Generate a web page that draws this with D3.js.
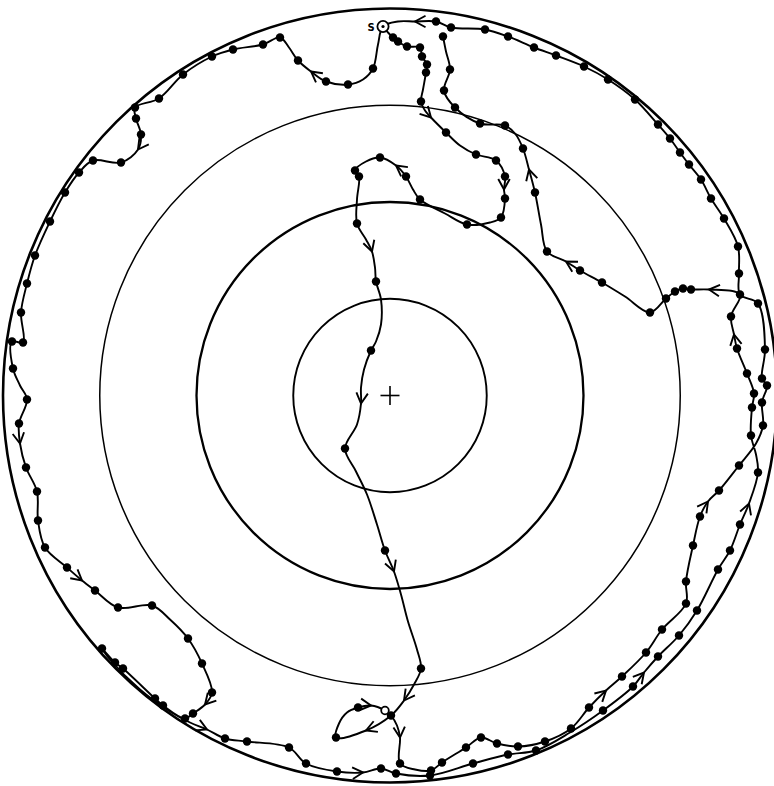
<!DOCTYPE html>
<html>
<head>
<meta charset="utf-8">
<script src="https://cdn.jsdelivr.net/npm/d3@7"></script>
<style>
  html, body { margin: 0; padding: 0; background: #fff; }
  svg { display: block; }
</style>
</head>
<body>
<svg id="chart" width="774" height="786"></svg>
<script>
// Pool geometry (tracker units, origin at pool centre, y up)
const POOL_R = 77.4;
const RING_FRACTIONS = [0.25, 0.5, 0.75, 1];
const START_LABEL = "S";

// Swim path, in order. Each entry: [x, y, kind]
// kind: 0 = path vertex, 1 = position fix (dot), 2 = heading arrow, 3 = hollow marker
const legStart = [
  [-1.4, 73.8, 3], [-0.4, 72.6, 0], [0.6, 71.6, 1], [1.6, 70.8, 1], [3.4, 69.8, 1],
  [6, 69.6, 1], [6.4, 67.8, 1], [7.4, 66.2, 1], [7.2, 64.6, 1], [6.6, 61.2, 0],
  [6.2, 58.8, 1], [7, 57, 0], [8.2, 55.6, 2], [11.2, 52.6, 1], [14, 50, 0],
  [17.2, 48.2, 1], [21.2, 47, 1], [23, 43.8, 1], [22.8, 41.2, 2], [23, 39.4, 1],
  [22.2, 35.6, 1], [20, 34.6, 0], [15.4, 34.2, 1], [11, 36.4, 0], [6, 39.2, 1],
  [4.6, 41.2, 0], [3.2, 43.8, 1], [1.2, 46, 2], [-2, 47.6, 1], [-4.8, 46.8, 0],
  [-7, 45, 1], [-6.2, 43.8, 1], [-6.6, 39.2, 0], [-6.6, 34.4, 1], [-4.8, 31.2, 0],
  [-3.6, 28.8, 2], [-3, 25.6, 0], [-2.8, 22.8, 1], [-1.8, 19.2, 0], [-1.8, 14.2, 0],
  [-2.8, 10.8, 0], [-3.8, 9, 1], [-5.2, 5.2, 0], [-5.8, 1.6, 0], [-5.8, -1.6, 2],
  [-6.6, -5.8, 0], [-9, -10.6, 1], [-6.8, -15.2, 0], [-4.6, -19.8, 0], [-2.6, -25.8, 0],
  [-1, -31, 1], [0.8, -35.2, 2], [2.2, -39.8, 0], [3.6, -45.2, 0], [5.4, -50.8, 0],
  [6.2, -54.6, 1], [4.8, -57.8, 0], [2.8, -61, 2], [0.2, -64, 1], [-4.8, -67, 2],
  [-10.8, -68.4, 1], [-10.2, -65.6, 0], [-8.6, -63.4, 0], [-6.4, -62.4, 1], [-3.8, -62, 2],
  [-1, -63, 3], [0.2, -64, 0], [1.4, -66, 0], [2, -68.4, 2], [2, -73.6, 1]
];

const legLap1 = [
  [5, -74.8, 0], [8.2, -75, 1], [10.4, -73.4, 1], [15.2, -70.4, 1], [18.2, -68.4, 1],
  [21.4, -69.6, 1], [25.6, -70.2, 1], [31, -69.2, 1], [36.2, -66.6, 1], [39.8, -62.4, 1],
  [43.2, -59, 2], [46.4, -56.2, 1], [51.2, -51.4, 1], [54.4, -46.8, 1], [59.2, -41.6, 1],
  [59.2, -37.2, 1], [60.6, -30, 1], [62, -24.2, 1], [63.6, -21.2, 2], [65.8, -19, 1],
  [69.8, -14, 1], [73.2, -9.6, 0], [74.6, -6, 1], [74.4, -1.4, 1], [75.4, 2, 1],
  [74.4, 3.4, 1], [75, 9.2, 1], [73.6, 18.4, 1], [70, 20.2, 1], [69.8, 24.4, 1],
  [69.6, 29.8, 1], [66.8, 35.4, 1], [64.2, 39.4, 1], [62.2, 43.2, 1], [59.8, 46.2, 1],
  [58, 48.6, 1], [56, 51.4, 1], [53.6, 54.2, 1], [49, 59.2, 1], [43.6, 63.2, 1],
  [38.8, 65.8, 1], [33.2, 68, 1], [28.8, 69.6, 1], [23.6, 71.8, 1], [19, 73.2, 1],
  [12.2, 73.6, 1], [9.2, 74.8, 1], [5, 74.8, 2], [1.6, 74.8, 0], [-1.4, 73.8, 0]
];

const legLap2 = [
  [-2.4, 70.2, 0], [-3.4, 65.4, 1], [-5.4, 63.2, 0], [-8.4, 62.2, 1], [-12.8, 62.8, 1],
  [-15.8, 64.8, 2], [-18.4, 67, 1], [-20.2, 69.6, 0], [-22, 71.6, 1], [-25.4, 70.2, 1],
  [-31.4, 69.2, 1], [-35.6, 67.8, 1], [-41.4, 64.2, 1], [-46.2, 59.4, 1], [-51, 57.6, 1],
  [-50.8, 55.4, 1], [-49.8, 52.2, 1], [-50.4, 49.2, 2], [-53.8, 46.6, 1], [-59.4, 47, 1],
  [-62.2, 44.6, 1], [-65, 40.6, 1], [-68, 34.8, 1], [-71, 28, 1], [-72.6, 22.4, 1],
  [-73.8, 16.6, 1], [-73.4, 10.6, 1], [-75.6, 10.8, 1], [-75.4, 5.4, 1], [-74, 2, 0],
  [-72.6, -0.8, 1], [-74.2, -5.6, 1], [-74, -9.6, 2], [-72.8, -14.4, 1], [-70.6, -19.2, 1],
  [-70.4, -25, 1], [-69, -30.4, 1], [-64.6, -34.4, 1], [-61.6, -37, 2], [-59, -39, 1],
  [-54.4, -42.4, 1], [-47.6, -42, 1], [-44, -44.8, 0], [-40.4, -48.6, 1], [-37.6, -53.6, 1],
  [-35.6, -59.4, 1], [-37, -61.8, 2], [-39.4, -63.6, 1], [-41, -64.6, 1], [-45.4, -62, 1],
  [-47, -60.6, 1], [-53.4, -54.6, 1], [-55, -53.4, 1], [-57.6, -50.6, 1], [-56, -52.8, 0],
  [-50, -58.8, 0], [-44, -63.2, 0], [-40, -65.4, 0], [-36.6, -66.8, 2], [-33, -68.6, 1],
  [-28.6, -69.2, 1], [-20.2, -70.4, 1], [-16.8, -73.6, 1], [-10.6, -75.2, 1], [-5.4, -75.4, 2],
  [-1.8, -74.6, 1], [1.2, -75.6, 1], [8, -76, 1], [16.6, -73.6, 1], [23.6, -71.8, 1],
  [29.2, -71, 1], [36, -67.4, 0], [42.6, -63, 1], [48.6, -58.2, 1], [50.8, -55.4, 2],
  [53.6, -52.2, 1], [57.8, -48, 1], [61.4, -43, 1], [65.6, -34.8, 1], [68, -31, 1],
  [70, -25.8, 1], [71.8, -21.6, 2], [73.6, -15.4, 1], [73.2, -11.8, 0], [72.2, -8, 1],
  [72.4, -2.4, 1], [72.8, 0.4, 1], [71.4, 4.4, 1], [69.4, 9.4, 1], [68.8, 12.2, 2],
  [68.2, 15.8, 1], [70, 20.2, 0], [63.8, 21.2, 2], [60.2, 21.2, 1], [58.6, 21.4, 1],
  [57, 20.8, 1], [55.2, 19.4, 1], [52, 16.6, 1], [47, 19.8, 0], [42.4, 22.6, 1],
  [38, 25, 1], [35.2, 26.8, 2], [31.4, 28.8, 1], [30.2, 34.2, 0], [29, 40.6, 1],
  [27.8, 45.2, 2], [26.6, 49.4, 1], [25, 52.4, 0], [23, 54, 1], [18, 54.4, 1],
  [13, 57.6, 1], [10.8, 61, 1], [12, 65.2, 1], [11.2, 68.8, 0], [10.6, 71.8, 1]
];

// ---------------------------------------------------------------
const svg = d3.select("#chart");
const cx = 390, cy = 395.5, pxPerUnit = 5;

const x = d3.scaleLinear()
  .domain([-POOL_R, POOL_R])
  .range([cx - POOL_R * pxPerUnit, cx + POOL_R * pxPerUnit]);
const y = d3.scaleLinear()
  .domain([-POOL_R, POOL_R])
  .range([cy + POOL_R * pxPerUnit, cy - POOL_R * pxPerUnit]);
const rPx = d => x(d) - x(0);

// Concentric annuli
const ringStroke = { 0.25: 1.9, 0.5: 2.3, 0.75: 1.5, 1: 2.6 };
svg.append("g").selectAll("circle")
  .data(RING_FRACTIONS)
  .join("circle")
  .attr("cx", x(0))
  .attr("cy", y(0))
  .attr("r", f => rPx(f * POOL_R))
  .attr("fill", "none")
  .attr("stroke", "#000")
  .attr("stroke-width", f => ringStroke[f]);

// Pool centre cross
const cross = svg.append("g").attr("stroke", "#000").attr("stroke-width", 1.6);
cross.append("line").attr("x1", x(-1.9)).attr("x2", x(1.9)).attr("y1", y(0)).attr("y2", y(0));
cross.append("line").attr("x1", x(0)).attr("x2", x(0)).attr("y1", y(1.9)).attr("y2", y(-1.9));

// Whole trajectory
const track = legStart.concat(legLap1, legLap2);
const pts = track.map(d => ({ px: x(d[0]), py: y(d[1]), kind: d[2] }));

const line = d3.line()
  .x(d => d.px)
  .y(d => d.py)
  .curve(d3.curveCatmullRom.alpha(0.5));

svg.append("path")
  .attr("d", line(pts))
  .attr("fill", "none")
  .attr("stroke", "#000")
  .attr("stroke-width", 1.9)
  .attr("stroke-linejoin", "round");

// Heading arrows (open chevrons pointing along the direction of travel)
const arrowLen = 12, arrowSpread = 0.5;
const arrowPaths = [];
pts.forEach((p, i) => {
  if (p.kind !== 2) return;
  const a = pts[Math.max(0, i - 1)], b = pts[Math.min(pts.length - 1, i + 1)];
  const ang = Math.atan2(b.py - a.py, b.px - a.px);
  const l1 = [p.px - arrowLen * Math.cos(ang - arrowSpread), p.py - arrowLen * Math.sin(ang - arrowSpread)];
  const l2 = [p.px - arrowLen * Math.cos(ang + arrowSpread), p.py - arrowLen * Math.sin(ang + arrowSpread)];
  arrowPaths.push(`M${l1[0]},${l1[1]}L${p.px},${p.py}L${l2[0]},${l2[1]}`);
});
svg.append("g").selectAll("path")
  .data(arrowPaths)
  .join("path")
  .attr("d", d => d)
  .attr("fill", "none")
  .attr("stroke", "#000")
  .attr("stroke-width", 1.9)
  .attr("stroke-linejoin", "miter");

// Position fixes
svg.append("g").selectAll("circle")
  .data(pts.filter(p => p.kind === 1))
  .join("circle")
  .attr("cx", d => d.px)
  .attr("cy", d => d.py)
  .attr("r", 4.2)
  .attr("fill", "#000");

// Hollow markers (start point and the hollow fix near the bottom)
const hollow = pts.filter(p => p.kind === 3);
svg.append("g").selectAll("circle")
  .data(hollow)
  .join("circle")
  .attr("cx", d => d.px)
  .attr("cy", d => d.py)
  .attr("r", (d, i) => i === 0 ? 5.6 : 3.8)
  .attr("fill", "#fff")
  .attr("stroke", "#000")
  .attr("stroke-width", 1.8);

// Start marker centre dot and label
const s = hollow[0];
svg.append("circle").attr("cx", s.px).attr("cy", s.py).attr("r", 1.6).attr("fill", "#000");
svg.append("text")
  .attr("x", s.px - 12)
  .attr("y", s.py + 4)
  .attr("text-anchor", "middle")
  .attr("font-family", "DejaVu Sans, sans-serif")
  .attr("font-weight", "bold")
  .attr("font-size", 10)
  .text(START_LABEL);
</script>
</body>
</html>
